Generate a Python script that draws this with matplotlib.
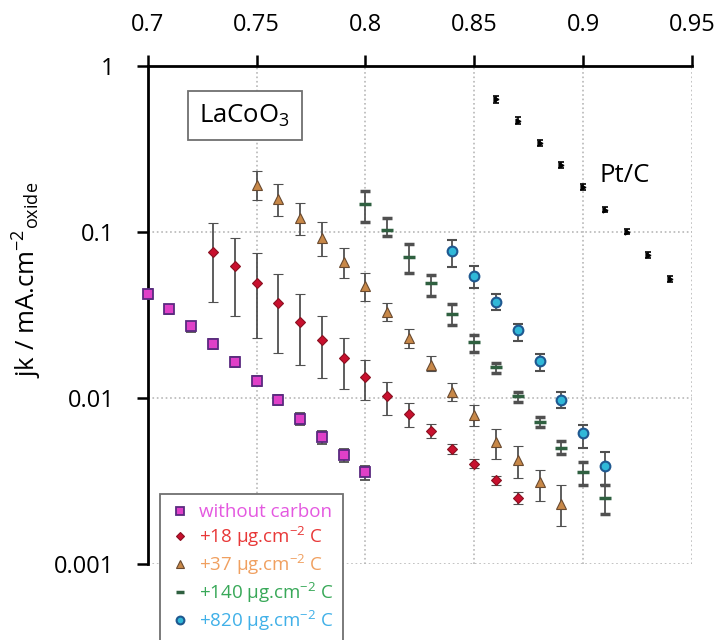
import numpy as np
import matplotlib
matplotlib.use('Agg')
import matplotlib.pyplot as plt
from matplotlib.lines import Line2D

plt.rcParams['font.family'] = ['Open Sans', 'DejaVu Sans']
plt.rcParams['mathtext.default'] = 'regular'

# potential (V) and jk values
x_none = [0.70, 0.71, 0.72, 0.73, 0.74, 0.75, 0.76, 0.77, 0.78, 0.79, 0.80]
y_none = [0.0423, 0.0342, 0.0270, 0.0211, 0.0165, 0.0127, 0.0097, 0.0075, 0.0058, 0.0045, 0.0036]
lo_none = [0.0395, 0.0318, 0.0251, 0.0196, 0.0153, 0.0118, 0.0090, 0.0069, 0.0053, 0.0041, 0.0032]
hi_none = [0.0450, 0.0365, 0.0288, 0.0226, 0.0176, 0.0136, 0.0104, 0.0081, 0.0063, 0.0049, 0.0039]

x_18 = [0.73, 0.74, 0.75, 0.76, 0.77, 0.78, 0.79, 0.80, 0.81, 0.82, 0.83, 0.84, 0.85, 0.86, 0.87]
y_18 = [0.076, 0.0627, 0.0489, 0.0375, 0.0288, 0.0224, 0.0174, 0.0134, 0.0103, 0.0080, 0.0063, 0.0049, 0.0040, 0.0032, 0.0025]
lo_18 = [0.0377, 0.031, 0.023, 0.0187, 0.0157, 0.0131, 0.0113, 0.0097, 0.0079, 0.0067, 0.0057, 0.0046, 0.0038, 0.0030, 0.0023]
hi_18 = [0.113, 0.0924, 0.0744, 0.0558, 0.042, 0.0312, 0.0231, 0.017, 0.0125, 0.0093, 0.0070, 0.0053, 0.0043, 0.0034, 0.0027]

x_37 = [0.75, 0.76, 0.77, 0.78, 0.79, 0.80, 0.81, 0.82, 0.83, 0.84, 0.85, 0.86, 0.87, 0.88, 0.89]
y_37 = [0.192, 0.157, 0.122, 0.0916, 0.0663, 0.0475, 0.0331, 0.0229, 0.0157, 0.0109, 0.0079, 0.0054, 0.0042, 0.0031, 0.0023]
lo_37 = [0.156, 0.124, 0.096, 0.0717, 0.0526, 0.0386, 0.0290, 0.020, 0.0146, 0.0096, 0.0068, 0.0043, 0.0033, 0.0024, 0.0017]
hi_37 = [0.234, 0.193, 0.150, 0.114, 0.0797, 0.0569, 0.0375, 0.026, 0.0178, 0.0123, 0.0091, 0.0065, 0.0051, 0.0037, 0.0030]

x_140 = [0.80, 0.81, 0.82, 0.83, 0.84, 0.85, 0.86, 0.87, 0.88, 0.89, 0.90, 0.91]
y_140 = [0.147, 0.103, 0.071, 0.049, 0.0321, 0.0216, 0.0153, 0.0102, 0.0072, 0.0050, 0.0036, 0.0025]
lo_140 = [0.114, 0.095, 0.0564, 0.041, 0.0276, 0.019, 0.0142, 0.0095, 0.0067, 0.0046, 0.0030, 0.0020]
hi_140 = [0.177, 0.121, 0.0847, 0.055, 0.0367, 0.024, 0.0162, 0.0109, 0.0077, 0.0055, 0.0041, 0.0030]

x_820 = [0.84, 0.85, 0.86, 0.87, 0.88, 0.89, 0.90, 0.91]
y_820 = [0.0769, 0.0543, 0.038, 0.0255, 0.0166, 0.0097, 0.0061, 0.0039]
lo_820 = [0.0618, 0.0456, 0.034, 0.0221, 0.0146, 0.0087, 0.0050, 0.0030]
hi_820 = [0.0895, 0.0624, 0.0421, 0.0279, 0.0183, 0.0108, 0.0069, 0.0047]

x_pt = [0.86, 0.87, 0.88, 0.89, 0.90, 0.91, 0.92, 0.93, 0.94]
y_pt = [0.63, 0.466, 0.342, 0.253, 0.186, 0.136, 0.1005, 0.0727, 0.0519]
lo_pt = [0.60, 0.445, 0.328, 0.243, 0.179, 0.131, 0.097, 0.070, 0.050]
hi_pt = [0.66, 0.490, 0.357, 0.264, 0.193, 0.141, 0.104, 0.0755, 0.054]

labels = ['without carbon', '+18 \u00b5g.cm$^{-2}$ C', '+37 \u00b5g.cm$^{-2}$ C',
          '+140 \u00b5g.cm$^{-2}$ C', '+820 \u00b5g.cm$^{-2}$ C']
text_colors = ['#E458E0', '#E83838', '#F0A060', '#38A858', '#40B0E8']

x_ticks = [0.7, 0.75, 0.8, 0.85, 0.9, 0.95]
x_tick_labels = ['0.7', '0.75', '0.8', '0.85', '0.9', '0.95']
y_ticks = [0.001, 0.01, 0.1, 1]
y_tick_labels = ['0.001', '0.01', '0.1', '1']


def yerr(y, lo, hi):
    y = np.array(y)
    return [y - np.array(lo), np.array(hi) - y]


fig = plt.figure(figsize=(7.17, 6.4), dpi=100)
ax = fig.add_axes([0.206, 0.119, 0.759, 0.778])

ebar = dict(ecolor='#505050', elinewidth=1.3, capsize=3.5, capthick=1.3, linestyle='none')

# marker styles (shared by plot and legend)
st_none = dict(marker='s', markersize=7, markerfacecolor='#E040C8', markeredgecolor='#5a2a80', markeredgewidth=1.3)
st_18 = dict(marker='D', markersize=5, markerfacecolor='#C8102E', markeredgecolor='#8a1020', markeredgewidth=0.8)
st_37 = dict(marker='^', markersize=7, markerfacecolor='#C88848', markeredgecolor='#6a4a30', markeredgewidth=0.8)
st_140 = dict(marker='_', markersize=8, markerfacecolor='#2f6040', markeredgecolor='#2f6040', markeredgewidth=2.5)
st_820 = dict(marker='o', markersize=7, markerfacecolor='#30B8D8', markeredgecolor='#1f5890', markeredgewidth=1.5)

eb = ax.errorbar(x_none, y_none, yerr=yerr(y_none, lo_none, hi_none), zorder=3, **st_none, **ebar)
eb[0].set_clip_on(False)
ax.errorbar(x_18, y_18, yerr=yerr(y_18, lo_18, hi_18), zorder=3, **st_18, **ebar)
ax.errorbar(x_37, y_37, yerr=yerr(y_37, lo_37, hi_37), zorder=3, **st_37, **ebar)
ax.errorbar(x_140, y_140, yerr=yerr(y_140, lo_140, hi_140), zorder=3, **st_140, **ebar)
ax.errorbar(x_820, y_820, yerr=yerr(y_820, lo_820, hi_820), zorder=3, **st_820, **ebar)
ax.errorbar(x_pt, y_pt, yerr=yerr(y_pt, lo_pt, hi_pt), marker='>', markersize=3.5,
            markerfacecolor='black', markeredgecolor='black',
            ecolor='black', elinewidth=1.2, capsize=2.5, capthick=1.2, linestyle='none', zorder=3)

ax.set_yscale('log')
ax.set_xlim(0.7, 0.95)
ax.set_ylim(0.001, 1)
ax.xaxis.tick_top()
ax.set_xticks(x_ticks)
ax.set_xticklabels(x_tick_labels)
ax.set_yticks(y_ticks)
ax.set_yticklabels(y_tick_labels)
ax.yaxis.set_minor_locator(matplotlib.ticker.NullLocator())
ax.tick_params(axis='both', direction='out', length=8, width=1.8, labelsize=17)
ax.tick_params(axis='y', pad=16)
ax.tick_params(axis='x', pad=13)

ax.spines['right'].set_visible(False)
ax.spines['bottom'].set_visible(False)
ax.spines['left'].set_linewidth(2)
ax.spines['top'].set_linewidth(2)

ax.grid(True, color='#b8b8b8', linestyle=':', linewidth=1.2)
ax.set_axisbelow(True)

ax.set_ylabel('jk / mA.cm$^{-2}$$_{oxide}$', fontsize=18.5)
ax.yaxis.set_label_coords(-0.19, 0.57)

ax.text(0.178, 0.90, 'LaCoO$_3$', transform=ax.transAxes, fontsize=18.5, ha='center', va='center',
        bbox=dict(boxstyle='square,pad=0.45', facecolor='white', edgecolor='#707070', linewidth=1.3))
ax.text(0.877, 0.78, 'Pt/C', transform=ax.transAxes, fontsize=18.5, ha='center', va='center')

handles = [Line2D([], [], linestyle='none', **dict(st, markersize=st['markersize'] * 0.8))
           for st in [st_none, st_18, st_37, st_140, st_820]]
leg = ax.legend(handles, labels, loc='upper left', bbox_to_anchor=(0.022, 0.1406), borderaxespad=0,
                fontsize=13.5, frameon=True, fancybox=False, edgecolor='#707070', framealpha=1,
                handletextpad=0.4, labelspacing=0.2, borderpad=0.5, handlelength=1.2)
leg.get_frame().set_linewidth(1.3)
for t, c in zip(leg.get_texts(), text_colors):
    t.set_color(c)

fig.savefig('out.png', dpi=100)
